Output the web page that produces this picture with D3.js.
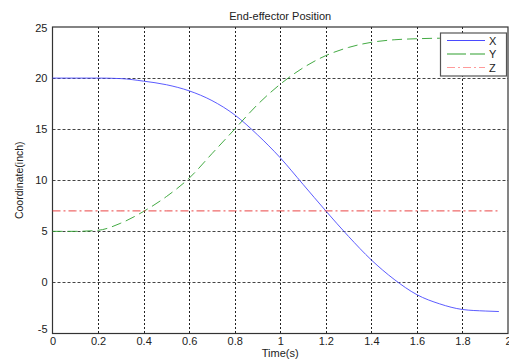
<!DOCTYPE html>
<html><head><meta charset="utf-8">
<script src="https://cdn.jsdelivr.net/npm/d3@7/dist/d3.min.js"></script>
<style>
html,body{margin:0;padding:0;background:#fff;}
svg{display:block;font-family:"Liberation Sans",Arial,sans-serif;}
</style></head>
<body>
<svg id="chart" width="509" height="360"></svg>
<script>
const time    = [0, 0.1, 0.2, 0.3, 0.4, 0.5, 0.6, 0.7, 0.8, 0.9, 1.0, 1.1, 1.2, 1.3, 1.4, 1.5, 1.6, 1.7, 1.8, 1.9, 1.96];
const seriesX = [20, 20, 20, 19.95, 19.7, 19.35, 18.75, 17.8, 16.4, 14.45, 12.2, 9.6, 7.0, 4.5, 2.2, 0.3, -1.2, -2.1, -2.65, -2.8, -2.85];
const seriesY = [5, 5, 5.1, 5.8, 6.95, 8.4, 10.2, 12.6, 15.0, 17.4, 19.4, 21.0, 22.2, 23.0, 23.5, 23.75, 23.85, 23.9, 23.9, 23.9, 23.9];
const seriesZ = [7, 7, 7, 7, 7, 7, 7, 7, 7, 7, 7, 7, 7, 7, 7, 7, 7, 7, 7, 7, 7];
const seriesNames = ["X", "Y", "Z"];
const xTicks = [0, 0.2, 0.4, 0.6, 0.8, 1, 1.2, 1.4, 1.6, 1.8, 2];
const yTicks = [-5, 0, 5, 10, 15, 20, 25];

const svg = d3.select("#chart");
const L = 52.5, R = 508, T = 27, B = 333.5;
const x = d3.scaleLinear().domain([0, 2]).range([L, R]);
const y = d3.scaleLinear().domain([-5, 25]).range([B, T]);
const fmt = d => String(+d.toFixed(2));

// grid
const g = svg.append("g");
g.selectAll(".vg").data(xTicks.slice(1, -1)).join("line")
  .attr("x1", d => Math.round(x(d)) + 0.5).attr("x2", d => Math.round(x(d)) + 0.5)
  .attr("y1", T).attr("y2", B)
  .attr("stroke", "#222").attr("stroke-width", 1).attr("stroke-dasharray", "2,2");
g.selectAll(".hg").data(yTicks.slice(1, -1)).join("line")
  .attr("y1", d => Math.round(y(d)) + 0.5).attr("y2", d => Math.round(y(d)) + 0.5)
  .attr("x1", L).attr("x2", R)
  .attr("stroke", "#444").attr("stroke-width", 1).attr("stroke-dasharray", "3,2");

// axes
const xAxis = d3.axisBottom(x).tickValues(xTicks).tickSize(0).tickPadding(4).tickFormat(fmt);
const yAxis = d3.axisLeft(y).tickValues(yTicks).tickSize(0).tickPadding(5).tickFormat(fmt);
const gx = svg.append("g").attr("transform", `translate(0,${B})`).call(xAxis);
const gy = svg.append("g").attr("transform", `translate(${L},0)`).call(yAxis);
[gx, gy].forEach(a => {
  a.select(".domain").remove();
  a.selectAll("text").attr("font-size", 11).attr("fill", "#222").attr("font-family", "Liberation Sans, Arial, sans-serif");
});
gy.selectAll("text").filter(d => d === -5).attr("dy", "-0.05em");
gy.selectAll("text").filter(d => d === 25).attr("dy", "0.45em");

// box
svg.append("rect").attr("x", L).attr("y", T).attr("width", R - L).attr("height", B - T)
  .attr("fill", "none").attr("stroke", "#333").attr("stroke-width", 1.2);

// lines
const line = d3.line().x((d, i) => x(time[i])).y(d => y(d)).curve(d3.curveMonotoneX);
const styles = [
  {data: seriesX, color: "#4a4aff", dash: null, legendColor: "#4a4aff", legendDash: null},
  {data: seriesY, color: "#2ea02e", dash: "10,5", legendColor: "#2ea02e", legendDash: "19,4"},
  {data: seriesZ, color: "#e83030", dash: "8,3,2,3", legendColor: "#ff9a9a", legendDash: "8,3,2,3"}
];
styles.forEach(s => {
  svg.append("path").datum(s.data).attr("d", line)
    .attr("fill", "none").attr("stroke", s.color).attr("stroke-width", 0.9)
    .attr("stroke-dasharray", s.dash);
});

// title & labels
svg.append("text").attr("x", (L + R) / 2).attr("y", 20).attr("text-anchor", "middle")
  .attr("font-size", 11).attr("fill", "#222").text("End-effector Position");
svg.append("text").attr("x", (L + R) / 2).attr("y", 357).attr("text-anchor", "middle")
  .attr("font-size", 11).attr("fill", "#222").text("Time(s)");
svg.append("text").attr("transform", `translate(23,${(T + B) / 2}) rotate(-90)`)
  .attr("text-anchor", "middle").attr("font-size", 10.5).attr("fill", "#222").text("Coordinate(inch)");

// legend
const lg = svg.append("g");
lg.append("rect").attr("x", 440.5).attr("y", 33).attr("width", 66).attr("height", 43)
  .attr("fill", "#fff").attr("stroke", "#555").attr("stroke-width", 1.2);
styles.forEach((s, i) => {
  const yy = 40.5 + i * 13.5;
  lg.append("line").attr("x1", 447).attr("x2", 485).attr("y1", yy).attr("y2", yy)
    .attr("stroke", s.legendColor).attr("stroke-width", 1.2).attr("stroke-dasharray", s.legendDash);
  lg.append("text").attr("x", 489).attr("y", yy + 4).attr("font-size", 11).attr("fill", "#222").text(seriesNames[i]);
});
</script>
</body></html>
